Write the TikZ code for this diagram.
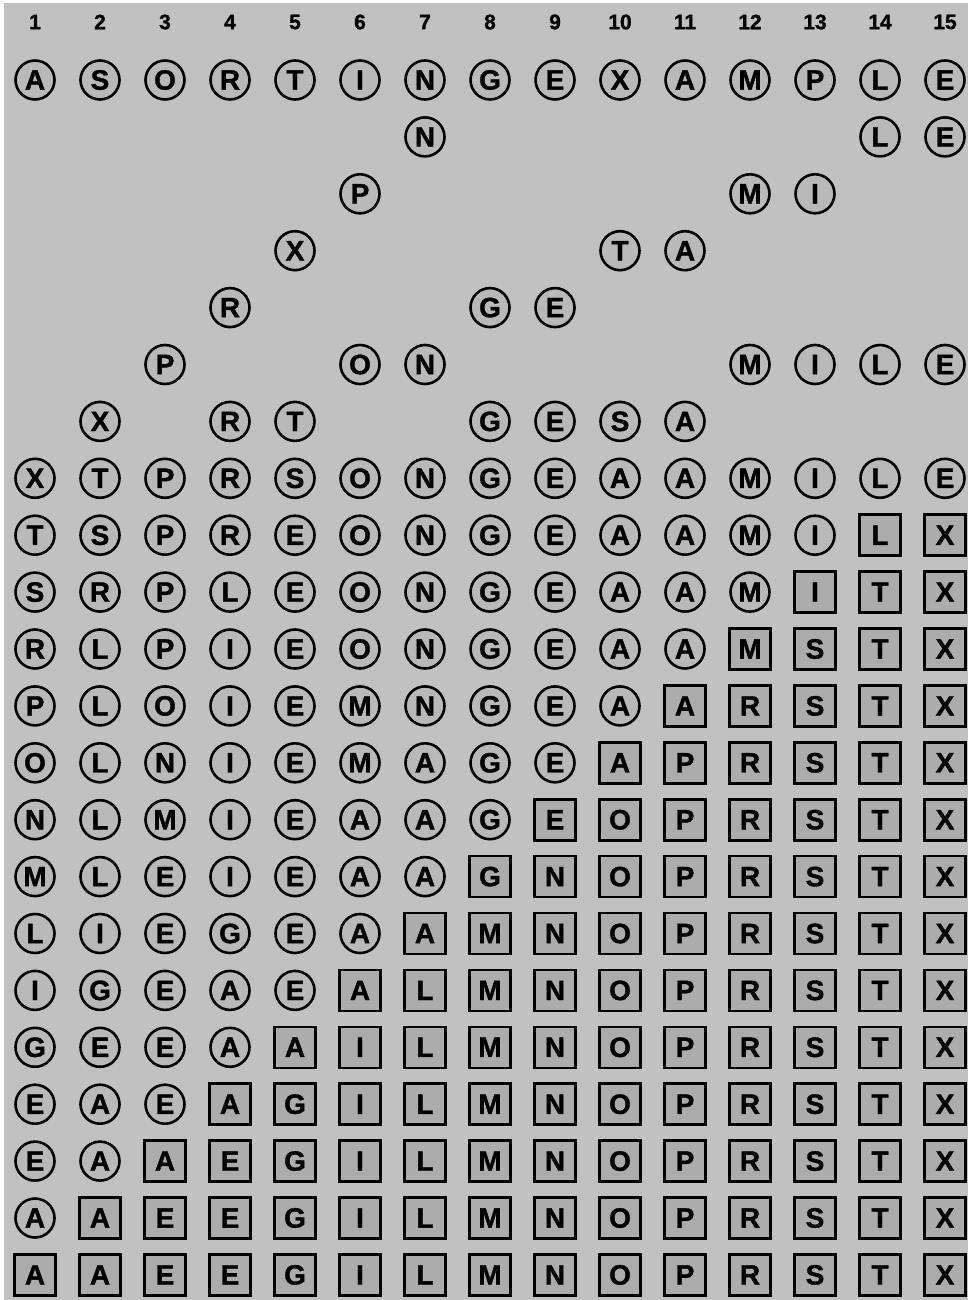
\documentclass[tikz,border=0pt]{standalone}
\usepackage{fontspec}
\usepackage{tikz}
\setmainfont{Liberation Sans}[BoldFeatures={FakeBold=1.3}]
\definecolor{cpaper}{HTML}{c1c1c1}
\definecolor{cring}{HTML}{b9b9b9}
\definecolor{cdone}{HTML}{acacac}

\begin{document}
\begin{tikzpicture}[
  x=1pt,y=-1pt,
  key/.style={circle,draw,line width=2.6pt,fill=cring,minimum size=39pt,inner sep=0pt,
    font=\fontsize{28pt}{30pt}\selectfont\bfseries},
  sorted/.style={rectangle,draw,line width=2.6pt,fill=cdone,minimum size=41pt,inner sep=0pt,
    font=\fontsize{28pt}{30pt}\selectfont\bfseries},
  idx/.style={inner sep=0pt,font=\fontsize{21pt}{23pt}\selectfont\bfseries}]
  \useasboundingbox (0,0) rectangle (968,1300);
  \fill[white] (0,0) rectangle (968,1300);
  \fill[cpaper] (4,3) rectangle (968,1300);
  % array positions
  \foreach \c in {1,...,15}
    \node[idx] (h\c) at (\c*65-30,22) {\c};
  % row / first sorted column / keys (- = empty)
  \foreach \r/\b/\w in {
     0/16/{A,S,O,R,T,I,N,G,E,X,A,M,P,L,E},
     1/16/{-,-,-,-,-,-,N,-,-,-,-,-,-,L,E},
     2/16/{-,-,-,-,-,P,-,-,-,-,-,M,I,-,-},
     3/16/{-,-,-,-,X,-,-,-,-,T,A,-,-,-,-},
     4/16/{-,-,-,R,-,-,-,G,E,-,-,-,-,-,-},
     5/16/{-,-,P,-,-,O,N,-,-,-,-,M,I,L,E},
     6/16/{-,X,-,R,T,-,-,G,E,S,A,-,-,-,-},
     7/16/{X,T,P,R,S,O,N,G,E,A,A,M,I,L,E},
     8/14/{T,S,P,R,E,O,N,G,E,A,A,M,I,L,X},
     9/13/{S,R,P,L,E,O,N,G,E,A,A,M,I,T,X},
    10/12/{R,L,P,I,E,O,N,G,E,A,A,M,S,T,X},
    11/11/{P,L,O,I,E,M,N,G,E,A,A,R,S,T,X},
    12/10/{O,L,N,I,E,M,A,G,E,A,P,R,S,T,X},
    13/9/{N,L,M,I,E,A,A,G,E,O,P,R,S,T,X},
    14/8/{M,L,E,I,E,A,A,G,N,O,P,R,S,T,X},
    15/7/{L,I,E,G,E,A,A,M,N,O,P,R,S,T,X},
    16/6/{I,G,E,A,E,A,L,M,N,O,P,R,S,T,X},
    17/5/{G,E,E,A,A,I,L,M,N,O,P,R,S,T,X},
    18/4/{E,A,E,A,G,I,L,M,N,O,P,R,S,T,X},
    19/3/{E,A,A,E,G,I,L,M,N,O,P,R,S,T,X},
    20/2/{A,A,E,E,G,I,L,M,N,O,P,R,S,T,X},
    21/1/{A,A,E,E,G,I,L,M,N,O,P,R,S,T,X}}
    \foreach \ch [count=\c] in \w {
      \if\ch-\else
        \ifnum\c<\b
          \node[key] (r\r c\c) at (\c*65-30,80+\r*56.9) {\ch};
        \else
          \node[sorted] (r\r c\c) at (\c*65-30,80+\r*56.9) {\ch};
        \fi
      \fi
    };
\end{tikzpicture}
\end{document}
